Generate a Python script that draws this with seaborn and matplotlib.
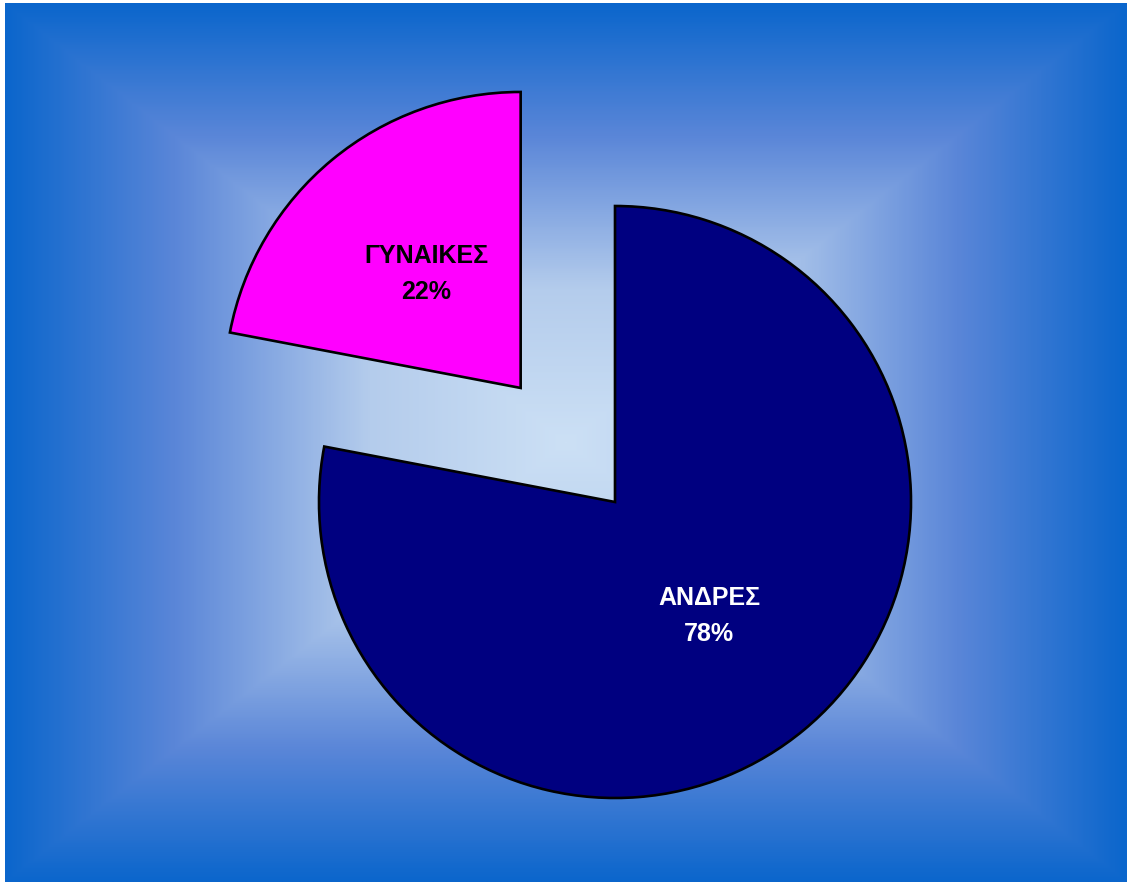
import numpy as np
import matplotlib
matplotlib.use("Agg")
import matplotlib.pyplot as plt
from matplotlib.colors import LinearSegmentedColormap
import seaborn as sns

sns.set_theme(style="white")
plt.rcParams["font.family"] = ["Liberation Sans", "DejaVu Sans"]

# Data
categories = ["ΓΥΝΑΙΚΕΣ", "ΑΝΔΡΕΣ"]
shares = [22, 78]
slice_colors = ["#FF00FF", "#000080"]
label_colors = ["black", "white"]

W, H = 1129, 885
fig = plt.figure(figsize=(W / 100, H / 100), dpi=100)
fig.patch.set_facecolor("white")
ax = fig.add_axes([0, 0, 1, 1])

# Rectangular "from centre" gradient backdrop
x0, x1, y0, y1 = 5, 1127, 3, 882
nx, ny = 600, 470
gx = np.linspace(-1, 1, nx)
gy = np.linspace(-1, 1, ny)
GX, GY = np.meshgrid(gx, gy)
t = np.maximum(np.abs(GX), np.abs(GY))
bg_cmap = LinearSegmentedColormap.from_list(
    "bg", [(0.0, "#CCE0F5"), (0.35, "#B4CCEC"), (0.7, "#5A86D8"), (1.0, "#0B66CC")]
)
ax.imshow(t, cmap=bg_cmap, vmin=0, vmax=1, extent=(x0, x1, H - y1, H - y0),
          origin="lower", interpolation="bilinear", zorder=0, aspect="auto")

label_iter = iter(zip(categories, label_colors))


def fmt(p):
    name, _ = next(label_iter)
    return f"{name}\n{p:.0f}%"


radius = 296
wedges, texts, autotexts = ax.pie(
    shares,
    colors=slice_colors,
    startangle=90,
    counterclock=True,
    explode=[0.5 * radius, 0.0],
    center=(615, H - 502),
    radius=radius,
    autopct=fmt,
    pctdistance=0.5,
    wedgeprops=dict(edgecolor="black", linewidth=1.9),
    textprops=dict(fontsize=18, fontweight="bold", linespacing=1.6),
)
for w in wedges:
    w.set_zorder(2)
for at, c in zip(autotexts, label_colors):
    at.set_color(c)
    at.set_zorder(3)

ax.set_xlim(0, W)
ax.set_ylim(0, H)
ax.set_aspect("equal")
ax.axis("off")

fig.savefig("out.png", dpi=100, facecolor="white")
